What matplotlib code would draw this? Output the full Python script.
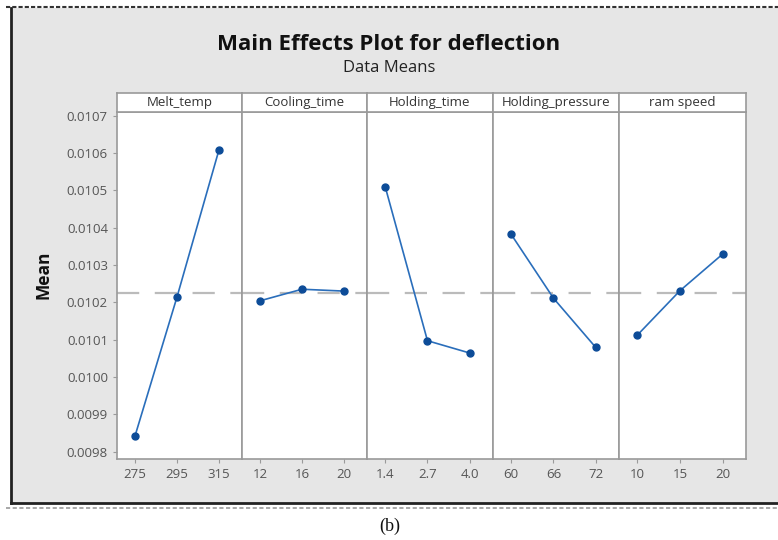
import numpy as np
import matplotlib.pyplot as plt
from matplotlib.patches import Rectangle
from matplotlib.lines import Line2D

# factors and levels
factors = ['Melt_temp', 'Cooling_time', 'Holding_time', 'Holding_pressure', 'ram speed']
levels = [
    ['275', '295', '315'],
    ['12', '16', '20'],
    ['1.4', '2.7', '4.0'],
    ['60', '66', '72'],
    ['10', '15', '20'],
]
# data means
melt_temp = [0.009842, 0.010214, 0.010608]
cooling_time = [0.010204, 0.010235, 0.010230]
holding_time = [0.010510, 0.010097, 0.010064]
holding_pressure = [0.010382, 0.010211, 0.010079]
ram_speed = [0.010112, 0.010231, 0.010329]
means = [melt_temp, cooling_time, holding_time, holding_pressure, ram_speed]
grand_mean = 0.010224
yticks = [0.0098, 0.0099, 0.0100, 0.0101, 0.0102, 0.0103, 0.0104, 0.0105, 0.0106, 0.0107]

W, H = 778, 540
line_col = '#2a6ebb'
dot_col = '#0d4c98'
tick_col = '#555555'
edge_col = '#9a9a9a'

plt.rcParams['font.family'] = ['Open Sans', 'DejaVu Sans']

fig = plt.figure(figsize=(W / 100, H / 100), dpi=100)
fig.patch.set_facecolor('white')

def fx(px):
    return px / W

def fy(py):
    return 1 - py / H

# grey frame
fig.add_artist(Rectangle((fx(11), fy(503)), fx(W - 11), fy(8) - fy(503),
                         transform=fig.transFigure, facecolor='#e6e6e6', edgecolor='none', zorder=0))
fig.add_artist(Line2D([fx(11), fx(11)], [fy(503), fy(8)], transform=fig.transFigure, color='#222222', lw=2))
fig.add_artist(Line2D([fx(11), 1], [fy(503), fy(503)], transform=fig.transFigure, color='#222222', lw=2))
fig.add_artist(Line2D([fx(6), 1], [fy(7), fy(7)], transform=fig.transFigure, color='#333333', lw=1.5,
                      linestyle=(0, (2, 1))))
fig.add_artist(Line2D([fx(6), 1], [fy(508), fy(508)], transform=fig.transFigure, color='#999999', lw=1.2,
                      linestyle=(0, (2.5, 1.5))))

fig.text(0.5, fy(45), 'Main Effects Plot for deflection', ha='center', va='center',
         fontsize=16, fontweight='bold', color='#111111')
fig.text(0.5, fy(68), 'Data Means', ha='center', va='center', fontsize=12, color='#222222')
fig.text(fx(43), fy(275), 'Mean', ha='center', va='center', rotation=90,
         fontsize=12.5, fontweight='bold', color='#111111')
fig.text(fx(390), fy(526), '(b)', ha='center', va='center', fontsize=13,
         family='Liberation Serif', color='#111111')

edges = [117, 242, 367, 493, 619, 746]
top, bottom, strip_top = 112, 459, 93

for i, name in enumerate(factors):
    x0, x1 = edges[i], edges[i + 1]
    ax = fig.add_axes([fx(x0), fy(bottom), fx(x1 - x0), fy(top) - fy(bottom)])
    ax.set_facecolor('white')
    xs = np.arange(len(levels[i]))
    ax.axhline(grand_mean, color='#bbbbbb', lw=1.6, linestyle=(0, (10, 7)), zorder=1)
    ax.plot(xs, means[i], '-', color=line_col, lw=1.2, zorder=2)
    ax.plot(xs, means[i], 'o', color=dot_col, ms=5, zorder=3)
    ax.set_xlim(-0.43, 2.55)
    ax.set_ylim(0.00978, 0.01071)
    ax.set_xticks(xs)
    ax.set_xticklabels(levels[i])
    ax.set_yticks(yticks)
    ax.tick_params(axis='both', colors=edge_col, labelcolor=tick_col, labelsize=9.5, length=3, width=0.8)
    if i == 0:
        ax.set_yticklabels([f'{v:.4f}' for v in yticks])
    else:
        ax.tick_params(axis='y', left=False, labelleft=False)
    for sp in ax.spines.values():
        sp.set_color(edge_col)
        sp.set_linewidth(1.2)

    sax = fig.add_axes([fx(x0), fy(top), fx(x1 - x0), fy(strip_top) - fy(top)])
    sax.set_facecolor('white')
    sax.set_xticks([])
    sax.set_yticks([])
    for sp in sax.spines.values():
        sp.set_color(edge_col)
        sp.set_linewidth(1.2)
    sax.text(0.5, 0.5, name, ha='center', va='center', fontsize=9.5, color='#333333',
             transform=sax.transAxes)

fig.savefig('out.png', dpi=100)
